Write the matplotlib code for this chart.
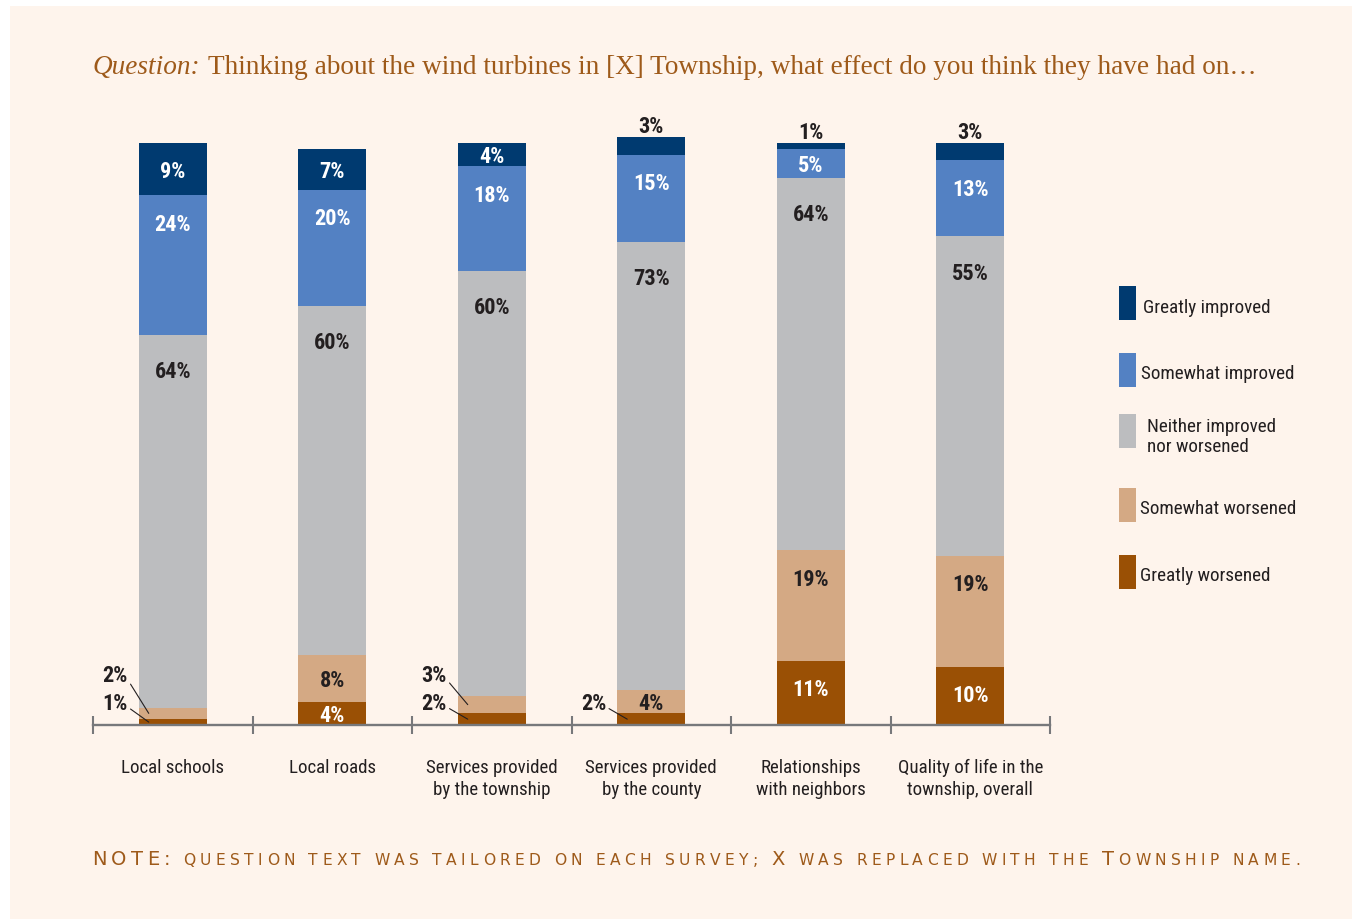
import numpy as np
import matplotlib
matplotlib.use('Agg')
import matplotlib.pyplot as plt
from matplotlib.patches import Rectangle
from matplotlib import font_manager as fm
from matplotlib.font_manager import FontProperties

# ---------------- data ----------------
categories = ['Local schools', 'Local roads', 'Services provided\nby the township',
              'Services provided\nby the county', 'Relationships\nwith neighbors',
              'Quality of life in the\ntownship, overall']
series_names = ['Greatly worsened', 'Somewhat worsened', 'Neither improved\nnor worsened',
                'Somewhat improved', 'Greatly improved']
greatly_worsened = [1, 4, 2, 2, 11, 10]
somewhat_worsened = [2, 8, 3, 4, 19, 19]
neither = [64, 60, 73, 77, 64, 55]          # bar lengths as drawn
somewhat_improved = [24, 20, 18, 15, 5, 13]
greatly_improved = [9, 7, 4, 3, 1, 3]
# printed labels of the "neither" segments (as shown in the source)
neither_labels = ['64%', '60%', '60%', '73%', '64%', '55%']

title_italic = 'Question:'
title_rest = 'Thinking about the wind turbines in [X] Township, what effect do you think they have had on\u2026'
note_text = 'NOTE: question text was tailored on each survey; X was replaced with the Township name.'

# ---------------- style ----------------
colors = ['#9A5005', '#D4A984', '#BCBDBF', '#5381C3', '#003A70']
label_colors = ['white', '#231F20', '#231F20', 'white', 'white']
BG = '#FEF4EC'
BROWN = '#9E5A1A'
DARK = '#231F20'
AXC = '#77787B'

ttf = fm.fontManager.ttflist
names = {f.name for f in ttf}
COND_FAMILY, COND_STRETCH, COND_SCALE = 'DejaVu Sans', 'normal', 0.78
for cand in ['Liberation Sans Narrow', 'Roboto Condensed', 'Open Sans Condensed',
             'DejaVu Sans Condensed']:
    if cand in names:
        COND_FAMILY, COND_SCALE = cand, 1.0
        break
else:
    if any(f.name == 'DejaVu Sans' and str(f.stretch) in ('condensed', 'semi-condensed', '87.5', '75')
           or ('DejaVuSansCondensed' in f.fname) for f in ttf):
        COND_FAMILY, COND_STRETCH, COND_SCALE = 'DejaVu Sans', 'condensed', 0.95
    elif 'Roboto' in names:
        COND_FAMILY, COND_SCALE = 'Roboto', 0.9
SERIF = 'Liberation Serif' if 'Liberation Serif' in names else 'DejaVu Serif'
NOTE_FONT = 'DejaVu Sans'

def cfont(size, weight='normal'):
    return dict(family=COND_FAMILY, fontstretch=COND_STRETCH, weight=weight,
                fontsize=size * COND_SCALE)

W, H = 1361, 920
fig = plt.figure(figsize=(W / 100, H / 100), dpi=100, facecolor='white')
fig.patches.append(Rectangle((10 / W, 0), 1342 / W, 913 / H, transform=fig.transFigure,
                             facecolor=BG, edgecolor='none', zorder=-10))

def fx(px):
    return px / W

def fy(py):
    return 1 - py / H

ax = fig.add_axes([fx(93), fy(726), 957 / W, 582 / H])
ax.set_facecolor('none')
ax.set_xlim(-0.5, 5.5)
ax.set_ylim(0, 100)

series = [greatly_worsened, somewhat_worsened, neither, somewhat_improved, greatly_improved]
x = np.arange(len(categories))
bw = 68 / 159.5
bottom = np.zeros(len(categories))
PX = 100 / 582.0   # data units per pixel

for j, vals in enumerate(series):
    vals = np.array(vals, dtype=float)
    ax.bar(x, vals, bottom=bottom, width=bw, color=colors[j], edgecolor='none',
           clip_on=False, zorder=2)
    for i in range(len(categories)):
        v = vals[i]
        b = bottom[i]
        t = b + v
        lab = neither_labels[i] if j == 2 else f'{int(v)}%'
        fp = cfont(16, 'bold')
        if v >= 4:
            off = 6.0 if j == 2 else 4.6
            yc = t - min(v / 2, off)
            ax.text(i, yc - 7.5 * PX, lab, ha='center', va='baseline',
                    color=label_colors[j], zorder=3, **fp)
        elif j >= 3:
            ax.text(i, t + 5 * PX, lab, ha='center', va='baseline', color=DARK,
                    zorder=3, **fp)
        else:
            ly = 4.1 if j == 0 else 8.8
            ax.annotate(lab, xy=(i - bw / 2 + 10 / 159.5, b + v / 2),
                        xytext=(i - bw / 2 - 11 / 159.5, ly - 7.5 * PX),
                        ha='right', va='baseline', color=DARK, zorder=3,
                        arrowprops=dict(arrowstyle='-', color=DARK, lw=0.8,
                                        shrinkA=0, shrinkB=0, relpos=(1.0, 0.3)),
                        annotation_clip=False, **fp)
    bottom = bottom + vals

for sp in ['top', 'right', 'left']:
    ax.spines[sp].set_visible(False)
ax.spines['bottom'].set_color(AXC)
ax.spines['bottom'].set_linewidth(1.7)
ax.spines['bottom'].set_zorder(4)
ax.set_yticks([])
ax.set_xticks(np.arange(-0.5, len(categories), 1.0))
ax.set_xticklabels([])
ax.tick_params(axis='x', direction='inout', length=13, width=1.5, color=AXC)

for i, c in enumerate(categories):
    nl = c.count('\n')
    ax.text(i, -(773 + 22 * nl - 726) * PX, c, ha='center', va='baseline',
            color=DARK, linespacing=1.25, **cfont(13.6))

# ---------------- legend ----------------
leg_boxes = [(287, 321), (354, 388), (415, 449), (489, 523), (556, 590)]
leg_text = [(1143, 313), (1141, 379), (1147, 452), (1140, 514), (1140, 581)]
order = [4, 3, 2, 1, 0]
for k, j in enumerate(order):
    y0, y1 = leg_boxes[k]
    fig.patches.append(Rectangle((fx(1119), fy(y1)), 17 / W, (y1 - y0) / H,
                                 transform=fig.transFigure, facecolor=colors[j],
                                 edgecolor='none'))
    tx, ty = leg_text[k]
    fig.text(fx(tx), fy(ty), series_names[j], ha='left', va='baseline',
             color=DARK, linespacing=1.15, **cfont(13.8))

# ---------------- title ----------------
renderer = fig.canvas.get_renderer()

def draw_title(size):
    t1 = fig.text(fx(92), fy(74), title_italic, fontsize=size, family=SERIF,
                  style='italic', color=BROWN, va='baseline', ha='left')
    e1 = t1.get_window_extent(renderer)
    sp = size * 100 / 72 * 0.3
    t2 = fig.text(fx(e1.x1 + sp), fy(74), title_rest, fontsize=size, family=SERIF,
                  color=BROWN, va='baseline', ha='left')
    e2 = t2.get_window_extent(renderer)
    return t1, t2, e2.x1 - e1.x0

t1, t2, wdt = draw_title(20)
size = 20 * 1161 / wdt
t1.remove(); t2.remove()
draw_title(size)

# ---------------- note in small caps ----------------
def adv(ch, fp):
    font = fm.get_font(fm.findfont(fp))
    font.set_size(fp.get_size_in_points(), fig.dpi)
    g = font.load_char(ord(ch))
    return g.linearHoriAdvance / 65536.0

fp_big = FontProperties(family=NOTE_FONT, size=14)
fp_small = FontProperties(family=NOTE_FONT, size=11.2)
items = []
for ch in note_text:
    if ch.isupper() or ch == ':':
        items.append((ch, fp_big))
    elif ch.islower():
        items.append((ch.upper(), fp_small))
    else:
        items.append((ch, fp_small))
base = sum(adv(c, p) for c, p in items[:-1])
x0n, x1n = 92, 1300 - adv(items[-1][0], items[-1][1])
track = (x1n - x0n - base) / (len(items) - 1)
xx = x0n
for c, p in items:
    if c != ' ':
        fig.text(fx(xx), fy(865), c, fontproperties=p, color=BROWN, va='baseline', ha='left')
    xx += adv(c, p) + track

fig.savefig('out.png', dpi=100, facecolor='white')
